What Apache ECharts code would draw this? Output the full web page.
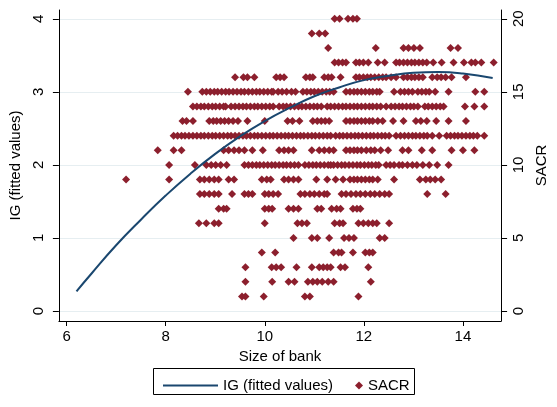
<!DOCTYPE html>
<html>
<head>
<meta charset="utf-8">
<script src="https://cdn.jsdelivr.net/npm/echarts@6/dist/echarts.min.js"></script>
<style>
html,body{margin:0;padding:0;background:#fff;}
#c{width:557px;height:407px;}
</style>
</head>
<body>
<div id="c"></div>
<script>
// Fitted values (quadratic fit of IG on size of bank)
const fitX = [6.2, 6.5, 7.0, 7.5, 8.0, 8.5, 9.0, 9.5, 10.0, 10.5, 11.0, 11.5, 12.0, 12.5, 13.0, 13.5, 14.0, 14.6];
const fitY = [0.27, 0.51, 0.90, 1.25, 1.58, 1.88, 2.15, 2.39, 2.60, 2.78, 2.94, 3.06, 3.16, 3.22, 3.26, 3.27, 3.25, 3.19];

// SACR scatter: size of bank values for each SACR level
const sacr20 = [11.41, 11.51, 11.68, 11.78, 11.86];
const sacr19 = [10.95, 11.10, 11.22];
const sacr18 = [11.28, 12.24, 12.80, 12.90, 13.01, 13.13, 13.75, 13.90];
const sacr17 = [11.41, 11.49, 11.57, 11.64, 11.84, 11.91, 11.99, 12.09, 12.28, 12.42, 12.65, 12.72, 12.80, 12.88, 12.96, 13.03, 13.11, 13.19, 13.27, 13.40, 13.57, 13.81, 14.02, 14.17, 14.25, 14.37, 14.62];
const sacr16 = [9.40, 9.57, 9.65, 9.79, 10.23, 10.31, 10.39, 10.83, 10.91, 10.97, 11.20, 11.28, 11.35, 11.53, 11.84, 11.91, 11.99, 12.07, 12.14, 12.22, 12.30, 12.38, 12.45, 12.55, 12.65, 12.80, 12.88, 12.96, 13.03, 13.11, 13.19, 13.38, 13.48, 13.56, 13.65, 13.77, 14.06];
const sacr15 = [8.45, 8.74, 8.82, 8.90, 8.98, 9.05, 9.13, 9.21, 9.28, 9.36, 9.44, 9.52, 9.59, 9.67, 9.75, 9.83, 9.90, 9.98, 10.06, 10.14, 10.17, 10.27, 10.35, 10.44, 10.54, 10.62, 10.77, 10.85, 10.93, 11.00, 11.08, 11.16, 11.24, 11.31, 11.39, 11.64, 11.72, 11.80, 11.87, 11.95, 12.03, 12.11, 12.18, 12.26, 12.32, 12.61, 12.74, 12.82, 12.90, 12.98, 13.09, 13.17, 13.25, 13.32, 13.44, 13.71, 14.25, 14.43];
const sacr14 = [8.55, 8.63, 8.71, 8.78, 8.86, 8.94, 9.01, 9.09, 9.17, 9.21, 9.32, 9.40, 9.48, 9.56, 9.63, 9.71, 9.79, 9.86, 9.94, 10.02, 10.10, 10.17, 10.29, 10.37, 10.44, 10.52, 10.60, 10.68, 10.75, 10.83, 10.91, 10.99, 11.06, 11.14, 11.26, 11.33, 11.41, 11.49, 11.57, 11.64, 11.72, 11.80, 11.87, 11.95, 12.03, 12.11, 12.18, 12.26, 12.34, 12.45, 12.55, 12.63, 12.71, 12.78, 12.86, 12.94, 13.01, 13.09, 13.23, 13.30, 13.38, 13.46, 13.54, 13.61, 14.04, 14.23, 14.43];
const sacr13 = [8.34, 8.42, 8.55, 8.88, 8.96, 9.03, 9.11, 9.19, 9.27, 9.36, 9.46, 9.65, 10.00, 10.46, 10.56, 10.70, 10.97, 11.06, 11.14, 11.22, 11.30, 11.64, 11.72, 11.80, 11.87, 11.95, 12.03, 12.11, 12.18, 12.28, 12.38, 12.59, 12.80, 13.05, 13.15, 13.27, 13.46, 13.71, 14.06];
const sacr12 = [8.16, 8.24, 8.32, 8.39, 8.47, 8.55, 8.63, 8.71, 8.78, 8.86, 8.94, 9.01, 9.09, 9.17, 9.25, 9.32, 9.40, 9.48, 9.56, 9.63, 9.71, 9.79, 9.86, 9.94, 10.02, 10.10, 10.17, 10.25, 10.33, 10.41, 10.48, 10.56, 10.64, 10.72, 10.79, 10.87, 10.95, 11.02, 11.10, 11.18, 11.26, 11.33, 11.43, 11.51, 11.58, 11.66, 11.74, 11.82, 11.89, 11.97, 12.05, 12.13, 12.20, 12.28, 12.36, 12.43, 12.51, 12.65, 12.74, 12.82, 12.90, 12.98, 13.05, 13.13, 13.21, 13.28, 13.38, 13.52, 13.67, 13.75, 13.83, 13.90, 13.98, 14.06, 14.14, 14.21, 14.29, 14.43];
const sacr11 = [7.84, 8.16, 8.32, 9.17, 9.27, 9.38, 9.48, 9.59, 9.75, 9.96, 10.29, 10.39, 10.48, 10.58, 10.95, 11.10, 11.20, 11.30, 11.39, 11.64, 11.72, 11.80, 11.87, 11.95, 12.05, 12.14, 12.22, 12.34, 12.49, 12.78, 12.90, 13.17, 13.38, 13.77, 14.00, 14.23];
const sacr10 = [8.07, 8.59, 8.82, 8.92, 9.01, 9.11, 9.23, 9.59, 9.67, 9.75, 9.83, 9.90, 9.98, 10.06, 10.14, 10.21, 10.29, 10.37, 10.44, 10.52, 10.60, 10.68, 10.81, 10.89, 10.97, 11.04, 11.12, 11.20, 11.28, 11.33, 11.39, 11.47, 11.55, 11.62, 11.70, 11.78, 11.86, 11.93, 12.01, 12.09, 12.16, 12.24, 12.30, 12.45, 12.53, 12.61, 12.71, 12.78, 12.88, 12.98, 13.07, 13.19, 13.32, 13.48, 13.71];
const sacr9 = [7.20, 8.07, 8.69, 8.78, 8.88, 8.98, 9.07, 9.27, 9.38, 9.94, 10.04, 10.12, 10.39, 10.48, 10.58, 10.68, 11.04, 11.26, 11.43, 11.58, 11.72, 11.80, 11.87, 11.95, 12.03, 12.11, 12.18, 12.28, 12.61, 13.13, 13.25, 13.34, 13.44, 13.56];
const sacr8 = [8.69, 8.78, 8.88, 8.98, 9.07, 9.34, 9.59, 9.67, 9.75, 10.00, 10.08, 10.17, 10.27, 10.72, 10.81, 10.91, 11.00, 11.10, 11.20, 11.26, 11.55, 11.64, 11.74, 11.84, 11.93, 12.03, 12.13, 12.22, 12.32, 12.42, 12.51, 13.28, 13.65];
const sacr7 = [9.07, 9.17, 9.23, 10.00, 10.08, 10.15, 10.48, 10.58, 10.68, 11.06, 11.14, 11.35, 11.45, 11.53, 11.78, 11.86, 11.93];
const sacr6 = [8.67, 8.82, 8.98, 9.07, 10.00, 10.66, 10.75, 10.85, 11.41, 11.51, 11.58, 11.89, 11.99, 12.09, 12.18, 12.26, 12.51];
const sacr5 = [10.58, 10.95, 11.06, 11.30, 11.60, 11.70, 11.80, 12.32, 12.42];
const sacr4 = [9.94, 10.21, 11.39, 11.49, 11.55, 11.78, 12.03, 12.11, 12.18];
const sacr3 = [9.61, 10.14, 10.23, 10.33, 10.64, 10.95, 11.10, 11.18, 11.26, 11.33, 11.53, 11.62, 12.09];
const sacr2 = [9.61, 10.15, 10.48, 10.60, 10.87, 10.97, 11.06, 11.16, 11.28, 11.39, 12.14];
const sacr1 = [9.54, 9.61, 9.98, 10.81, 10.91, 11.89];

const sacrLevels = [1,2,3,4,5,6,7,8,9,10,11,12,13,14,15,16,17,18,19,20];
const sacrRows = [sacr1,sacr2,sacr3,sacr4,sacr5,sacr6,sacr7,sacr8,sacr9,sacr10,sacr11,sacr12,sacr13,sacr14,sacr15,sacr16,sacr17,sacr18,sacr19,sacr20];

const xTicks = [6, 8, 10, 12, 14];
const igTicks = [0, 1, 2, 3, 4];
const sacrTicks = [0, 5, 10, 15, 20];

const fitData = fitX.map((x, i) => [x, fitY[i]]);
const scatterData = [];
sacrRows.forEach((row, i) => row.forEach(x => scatterData.push([x, sacrLevels[i]])));

const FONT = 'Liberation Sans, Arial, sans-serif';
const chart = echarts.init(document.getElementById('c'), null, {renderer: 'canvas'});
chart.setOption({
  backgroundColor: '#ffffff',
  animation: false,
  textStyle: {fontFamily: FONT},
  grid: {left: 53, right: 42, top: 10, bottom: 86},
  xAxis: {
    type: 'value', min: 5.845, max: 14.77,
    name: 'Size of bank', nameLocation: 'middle', nameGap: 21,
    nameTextStyle: {fontSize: 15, color: '#000', fontFamily: FONT},
    axisLine: {show: true, onZero: false, lineStyle: {color: '#000', width: 1}},
    axisTick: {show: true, length: 5, customValues: xTicks, lineStyle: {color: '#000'}},
    axisLabel: {customValues: xTicks, fontSize: 15, color: '#000', margin: 8, fontFamily: FONT},
    splitLine: {show: false}
  },
  yAxis: [{
    type: 'value', min: -0.137, max: 4.12, position: 'left',
    name: 'IG (fitted values)', nameLocation: 'middle', nameGap: 33, nameRotate: 90,
    nameTextStyle: {fontSize: 15, color: '#000', fontFamily: FONT},
    axisLine: {show: true, onZero: false, lineStyle: {color: '#000', width: 1}},
    axisTick: {show: true, length: 6, customValues: igTicks, lineStyle: {color: '#000'}},
    axisLabel: {customValues: igTicks, rotate: 90, fontSize: 15, color: '#000', margin: 13, fontFamily: FONT},
    splitLine: {show: true, lineStyle: {color: '#e6eef1', width: 1}}
  }, {
    type: 'value', min: -0.685, max: 20.6, position: 'right',
    name: 'SACR', nameLocation: 'middle', nameGap: 23, nameRotate: 90,
    nameTextStyle: {fontSize: 15, color: '#000', fontFamily: FONT},
    axisLine: {show: true, onZero: false, lineStyle: {color: '#000', width: 1}},
    axisTick: {show: true, length: 6, customValues: sacrTicks, lineStyle: {color: '#000'}},
    axisLabel: {customValues: sacrTicks, rotate: 90, fontSize: 15, color: '#000', margin: 10, fontFamily: FONT},
    splitLine: {show: false}
  }],
  graphic: [{
    type: 'rect', left: 153, top: 368, z: 0,
    shape: {width: 261, height: 26},
    style: {fill: '#fff', stroke: '#000', lineWidth: 1}
  }],
  legend: [{
    data: [{name: 'IG (fitted values)', icon: 'rect'}], left: 158, top: 373,
    itemWidth: 55, itemHeight: 2, itemGap: 10,
    itemStyle: {color: '#1a476f'},
    textStyle: {fontSize: 15, color: '#000', fontFamily: FONT}
  }, {
    data: [{name: 'SACR', icon: 'diamond'}], left: 350, top: 373,
    itemWidth: 8, itemHeight: 8,
    textStyle: {fontSize: 15, color: '#000', fontFamily: FONT}
  }],
  series: [{
    name: 'SACR', type: 'scatter', yAxisIndex: 1,
    symbol: 'diamond', symbolSize: 8,
    itemStyle: {color: '#8c1f2d', opacity: 1},
    data: scatterData, z: 2
  }, {
    name: 'IG (fitted values)', type: 'line', yAxisIndex: 0,
    symbol: 'none', smooth: true,
    lineStyle: {color: '#1a476f', width: 2},
    itemStyle: {color: '#1a476f'},
    data: fitData, z: 3
  }]
});
</script>
</body>
</html>
